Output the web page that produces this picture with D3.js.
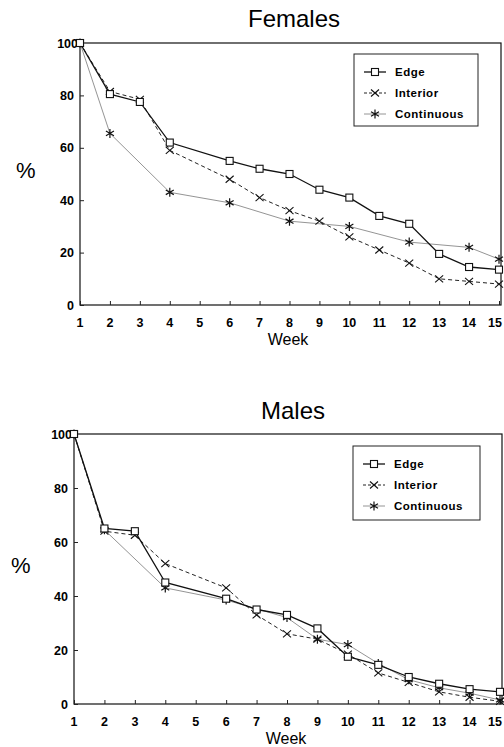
<!DOCTYPE html>
<html>
<head>
<meta charset="utf-8">
<script src="https://cdn.jsdelivr.net/npm/d3@7"></script>
<style>
  body { margin: 0; background: #fff; }
  svg { display: block; font-family: "Liberation Sans", Arial, sans-serif; }
</style>
</head>
<body>
<svg id="chart"></svg>
<script>
const weeks = [1, 2, 3, 4, 5, 6, 7, 8, 9, 10, 11, 12, 13, 14, 15];
const yTicks = [0, 20, 40, 60, 80, 100];
const seriesNames = ['Edge', 'Interior', 'Continuous'];

// females (% remaining), null = no observation that week
const femEdge = [100, 80.5, 77.5, 62, null, 55, 52, 50, 44, 41, 34, 31, 19.5, 14.5, 13.5];
const femInterior = [100, 81.5, 78.5, 59, null, 48, 41, 36, 32, 26, 21, 16, 10, 9, 8];
const femContinuous = [100, 65.5, null, 43, null, 39, null, 32, null, 30, null, 24, null, 22, 17.5];

// males
const maleEdge = [100, 65, 64, 45, null, 39, 35, 33, 28, 17.5, 14.5, 10, 7.5, 5.5, 4.5];
const maleInterior = [100, 64, 62.5, 52, null, 43, 33, 26, 24, 18.5, 11.5, 8, 4.5, 2.5, 1];
const maleContinuous = [100, 64.5, null, 43, null, 38.5, null, 32, 24, 22, 15, 9, 6, 4, 1.5];

const W = 504, H = 747;
const svg = d3.select('#chart').attr('width', W).attr('height', H);

const styles = {
  Edge: { stroke: '#111', width: 1.3, dash: null },
  Interior: { stroke: '#222', width: 1, dash: '4,3' },
  Continuous: { stroke: '#888', width: 0.9, dash: null }
};

// marker drawers
function marker(g, name, x, y) {
  if (name === 'Edge') {
    g.append('rect')
      .attr('x', x - 3.5).attr('y', y - 3.5)
      .attr('width', 7).attr('height', 7)
      .attr('fill', '#fff').attr('stroke', '#111').attr('stroke-width', 1.1);
  } else if (name === 'Interior') {
    g.append('path')
      .attr('d', `M${x-4},${y-3.5}L${x+4},${y+3.5}M${x-4},${y+3.5}L${x+4},${y-3.5}`)
      .attr('stroke', '#111').attr('stroke-width', 1.1);
  } else {
    g.append('path')
      .attr('d', `M${x},${y-4.5}L${x},${y+4.5}M${x-4},${y-2.3}L${x+4},${y+2.3}M${x-4},${y+2.3}L${x+4},${y-2.3}`)
      .attr('stroke', '#111').attr('stroke-width', 1.2);
  }
}

function drawPanel(cfg) {
  const g = svg.append('g');
  const x = d3.scaleLinear().domain([1, 15]).range([cfg.left, cfg.right]);
  const y = d3.scaleLinear().domain([0, 100]).range([cfg.bottom, cfg.top]);

  // frame
  g.append('rect')
    .attr('x', cfg.left).attr('y', cfg.top)
    .attr('width', cfg.right - cfg.left + 2).attr('height', cfg.bottom - cfg.top)
    .attr('fill', 'none').attr('stroke', '#111').attr('stroke-width', 1.2);

  // x axis, ticks pointing inward
  const xAxis = d3.axisTop(x).tickValues(weeks).tickSize(4).tickFormat('');
  g.append('g')
    .attr('transform', `translate(0,${cfg.bottom})`)
    .call(xAxis)
    .call(a => a.select('.domain').remove())
    .call(a => a.selectAll('line').attr('stroke', '#222'));

  g.selectAll('.xlab')
    .data(weeks)
    .enter()
    .append('text')
    .attr('x', d => Math.min(x(d), W - 9))
    .attr('y', cfg.bottom + 22)
    .attr('text-anchor', 'middle')
    .attr('font-size', 12.5)
    .attr('font-weight', 'bold')
    .text(d => d);

  const yAxis = d3.axisRight(y).tickValues(yTicks).tickSize(4).tickFormat('');
  g.append('g')
    .attr('transform', `translate(${cfg.left},0)`)
    .call(yAxis)
    .call(a => a.select('.domain').remove())
    .call(a => a.selectAll('line').attr('stroke', '#222'));

  g.selectAll('.ylab')
    .data(yTicks)
    .enter()
    .append('text')
    .attr('x', d => d === 100 ? cfg.left - 2 : cfg.left - 6)
    .attr('y', d => y(d) + 4.5)
    .attr('text-anchor', 'end')
    .attr('font-size', 12.5)
    .attr('font-weight', 'bold')
    .text(d => d);

  g.append('text')
    .attr('x', cfg.titleX).attr('y', cfg.titleY)
    .attr('text-anchor', 'middle')
    .attr('font-size', 24)
    .text(cfg.title);

  g.append('text')
    .attr('x', cfg.weekX).attr('y', cfg.weekY)
    .attr('text-anchor', 'middle')
    .attr('font-size', 16)
    .text('Week');

  g.append('text')
    .attr('x', cfg.pctX).attr('y', cfg.pctY)
    .attr('font-size', 22)
    .text('%');

  const line = d3.line()
    .x(d => x(d[0]))
    .y(d => y(d[1]));

  // draw continuous first, edge last (on top)
  [2, 1, 0].forEach(i => {
    const name = seriesNames[i];
    const pts = weeks.map((w, j) => [w, cfg.series[i][j]]).filter(p => p[1] !== null);
    const st = styles[name];
    g.append('path')
      .datum(pts)
      .attr('fill', 'none')
      .attr('stroke', st.stroke)
      .attr('stroke-width', st.width)
      .attr('stroke-dasharray', st.dash)
      .attr('d', line);
    const mg = g.append('g');
    pts.forEach(p => marker(mg, name, x(p[0]), y(p[1])));
  });

  // legend
  const lg = g.append('g');
  lg.append('rect')
    .attr('x', cfg.legX).attr('y', cfg.legY)
    .attr('width', cfg.legW).attr('height', cfg.legH)
    .attr('fill', '#fff').attr('stroke', '#222').attr('stroke-width', 1);
  seriesNames.forEach((name, i) => {
    const ly = cfg.legY + 18 + i * 21;
    const st = styles[name];
    lg.append('line')
      .attr('x1', cfg.legX + 10).attr('x2', cfg.legX + 32)
      .attr('y1', ly).attr('y2', ly)
      .attr('stroke', st.stroke)
      .attr('stroke-width', st.width)
      .attr('stroke-dasharray', name === 'Interior' ? '3,2' : null);
    marker(lg, name, cfg.legX + 21, ly);
    lg.append('text')
      .attr('x', cfg.legX + 41).attr('y', ly + 4)
      .attr('font-size', 11.5)
      .attr('font-weight', 'bold')
      .attr('letter-spacing', 0.5)
      .text(name);
  });
}

drawPanel({
  title: 'Females',
  series: [femEdge, femInterior, femContinuous],
  left: 80, right: 499, top: 43, bottom: 305,
  titleX: 294, titleY: 27,
  weekX: 288, weekY: 345,
  pctX: 16, pctY: 178,
  legX: 354, legY: 54, legW: 124, legH: 72
});

drawPanel({
  title: 'Males',
  series: [maleEdge, maleInterior, maleContinuous],
  left: 74, right: 500, top: 434, bottom: 704,
  titleX: 293, titleY: 419,
  weekX: 286, weekY: 744,
  pctX: 11, pctY: 573,
  legX: 353, legY: 446, legW: 127, legH: 74
});
</script>
</body>
</html>
